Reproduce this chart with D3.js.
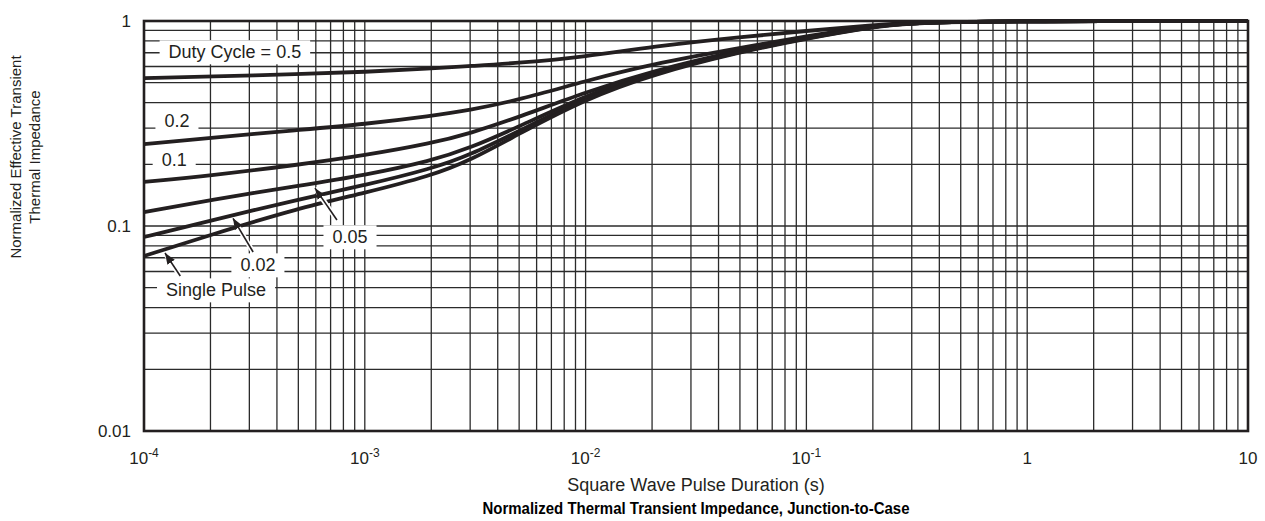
<!DOCTYPE html>
<html>
<head>
<meta charset="utf-8">
<script src="https://cdn.jsdelivr.net/npm/d3@7.9.0/dist/d3.min.js"></script>
<style>
  body { margin: 0; background: #fff; }
  svg { display: block; font-family: "Liberation Sans", Arial, sans-serif; }
</style>
</head>
<body>
<svg id="chart" width="1265" height="521"></svg>
<script>
const durations = [1e-4, 2e-4, 5e-4, 1e-3, 2e-3, 3e-3, 5e-3, 1e-2, 2e-2, 5e-2, 0.1, 0.2, 0.3, 1, 10];

// normalized impedance for each duty cycle
const duty05 = [0.527, 0.536, 0.551, 0.564, 0.586, 0.603, 0.624, 0.67, 0.75, 0.835, 0.894, 0.956, 0.983, 1, 1];
const duty02 = [0.251, 0.269, 0.294, 0.314, 0.344, 0.368, 0.412, 0.51, 0.617, 0.738, 0.845, 0.945, 0.983, 1, 1];
const duty01 = [0.164, 0.176, 0.199, 0.221, 0.253, 0.283, 0.34, 0.45, 0.57, 0.722, 0.835, 0.945, 0.983, 1, 1];
const duty005 = [0.117, 0.134, 0.157, 0.177, 0.208, 0.24, 0.306, 0.433, 0.564, 0.714, 0.831, 0.94, 0.983, 1, 1];
const duty002 = [0.0884, 0.106, 0.135, 0.158, 0.19, 0.222, 0.291, 0.421, 0.558, 0.71, 0.826, 0.94, 0.983, 1, 1];
const singlePulse = [0.0714, 0.0905, 0.122, 0.145, 0.176, 0.209, 0.282, 0.416, 0.548, 0.706, 0.821, 0.935, 0.983, 1, 1];

const series = [duty05, duty02, duty01, duty005, duty002, singlePulse];

// ticks
const xTicks = [1e-4, 1e-3, 1e-2, 1e-1, 1, 10];
const xTickLabels = [["10", "-4"], ["10", "-3"], ["10", "-2"], ["10", "-1"], ["1", ""], ["10", ""]];
const yTicks = [0.01, 0.1, 1];
const yTickLabels = ["0.01", "0.1", "1"];

// curve labels (centre, in data units)
const labelTexts = ["Duty Cycle = 0.5", "0.2", "0.1", "0.05", "0.02", "Single Pulse"];
const labelX = [2.58e-4, 1.41e-4, 1.37e-4, 8.57e-4, 3.28e-4, 2.12e-4];
const labelY = [0.706, 0.325, 0.21, 0.0884, 0.0645, 0.0487];

// arrows: from label toward curve
const arrowFrom = [[7.48e-4, 0.107], [3.12e-4, 0.0747], [1.46e-4, 0.057]];
const arrowTo = [[5.95e-4, 0.153], [2.53e-4, 0.109], [1.245e-4, 0.0738]];

const svg = d3.select('#chart');
const ink = '#231f20';

const x = d3.scaleLog().domain([1e-4, 10]).range([144, 1248]);
const y = d3.scaleLog().domain([0.01, 1]).range([431, 21]);

// grid lines: every 1..9 of each decade
const xGrid = [];
for (let e = -4; e < 1; e++) for (let m = 1; m < 10; m++) xGrid.push(m * Math.pow(10, e));
const yGrid = [];
for (let e = -2; e < 0; e++) for (let m = 1; m < 10; m++) yGrid.push(m * Math.pow(10, e));

const grid = svg.append('g').attr('stroke', '#2b2b2b').attr('stroke-width', 1.3);
grid.selectAll('line.v').data(xGrid).join('line')
    .attr('x1', d => x(d)).attr('x2', d => x(d))
    .attr('y1', y(0.01)).attr('y2', y(1));
grid.selectAll('line.h').data(yGrid).join('line')
    .attr('class', 'h')
    .attr('x1', x(1e-4)).attr('x2', x(10))
    .attr('y1', d => y(d)).attr('y2', d => y(d));

// labels with white boxes knocking out the grid
const labelG = svg.append('g');
labelTexts.forEach((t, i) => {
    const g = labelG.append('g');
    const rect = g.append('rect').attr('fill', '#fff');
    const txt = g.append('text')
        .attr('x', x(labelX[i])).attr('y', y(labelY[i]))
        .attr('text-anchor', 'middle')
        .attr('dy', '0.35em')
        .attr('font-size', 18)
        .attr('fill', ink)
        .text(t);
    const b = txt.node().getBBox();
    rect.attr('x', b.x - 9).attr('y', b.y - 2)
        .attr('width', b.width + 18).attr('height', b.height + 4);
});

// curves
const line = d3.line()
    .x((d, i) => x(durations[i]))
    .y(d => y(d))
    .curve(d3.curveBasis);

svg.append('g')
    .selectAll('path')
    .data(series)
    .join('path')
    .attr('d', d => line(d))
    .attr('fill', 'none')
    .attr('stroke', ink)
    .attr('stroke-width', 3.8)
    .attr('stroke-linejoin', 'round');

// frame
svg.append('rect')
    .attr('x', x(1e-4)).attr('y', y(1))
    .attr('width', x(10) - x(1e-4)).attr('height', y(0.01) - y(1))
    .attr('fill', 'none').attr('stroke', ink).attr('stroke-width', 2.6);

// arrows
svg.append('defs').append('marker')
    .attr('id', 'head')
    .attr('viewBox', '0 0 10 10')
    .attr('refX', 10).attr('refY', 5)
    .attr('markerWidth', 11).attr('markerHeight', 11)
    .attr('markerUnits', 'userSpaceOnUse')
    .attr('orient', 'auto')
    .append('path').attr('d', 'M0,1 L10,5 L0,9 Z').attr('fill', ink);

const arrowG = svg.append('g');
arrowFrom.forEach((f, i) => {
    const t = arrowTo[i];
    arrowG.append('line')
        .attr('x1', x(f[0])).attr('y1', y(f[1]))
        .attr('x2', x(t[0])).attr('y2', y(t[1]))
        .attr('stroke', '#fff').attr('stroke-width', 5);
});
arrowFrom.forEach((f, i) => {
    const t = arrowTo[i];
    arrowG.append('line')
        .attr('x1', x(f[0])).attr('y1', y(f[1]))
        .attr('x2', x(t[0])).attr('y2', y(t[1]))
        .attr('stroke', ink).attr('stroke-width', 1.6)
        .attr('marker-end', 'url(#head)');
});

// y tick labels
svg.append('g')
    .selectAll('text')
    .data(yTicks)
    .join('text')
    .attr('x', 131)
    .attr('y', d => y(d))
    .attr('dy', '0.35em')
    .attr('text-anchor', 'end')
    .attr('font-size', 17)
    .attr('fill', ink)
    .text((d, i) => yTickLabels[i]);

// x tick labels with superscripts
const xl = svg.append('g')
    .selectAll('text')
    .data(xTicks)
    .join('text')
    .attr('x', d => x(d))
    .attr('y', 464)
    .attr('text-anchor', 'middle')
    .attr('font-size', 17)
    .attr('fill', ink);
xl.append('tspan').text((d, i) => xTickLabels[i][0]);
xl.append('tspan')
    .attr('font-size', 12)
    .attr('dy', -7)
    .text((d, i) => xTickLabels[i][1]);

// axis titles
svg.append('text')
    .attr('x', 696).attr('y', 491)
    .attr('text-anchor', 'middle')
    .attr('font-size', 18)
    .attr('fill', ink)
    .text('Square Wave Pulse Duration (s)');

svg.append('text')
    .attr('x', 696).attr('y', 514)
    .attr('text-anchor', 'middle')
    .attr('font-size', 17)
    .attr('font-weight', 'bold')
    .attr('textLength', 427)
    .attr('lengthAdjust', 'spacingAndGlyphs')
    .attr('fill', '#000')
    .text('Normalized Thermal Transient Impedance, Junction-to-Case');

const yTitle = svg.append('text')
    .attr('transform', 'translate(21,157) rotate(-90)')
    .attr('text-anchor', 'middle')
    .attr('font-size', 15)
    .attr('fill', ink);
yTitle.append('tspan').attr('x', 0).attr('y', 0).text('Normalized Effective Transient');
yTitle.append('tspan').attr('x', 0).attr('y', 19).text('Thermal Impedance');
</script>
</body>
</html>
